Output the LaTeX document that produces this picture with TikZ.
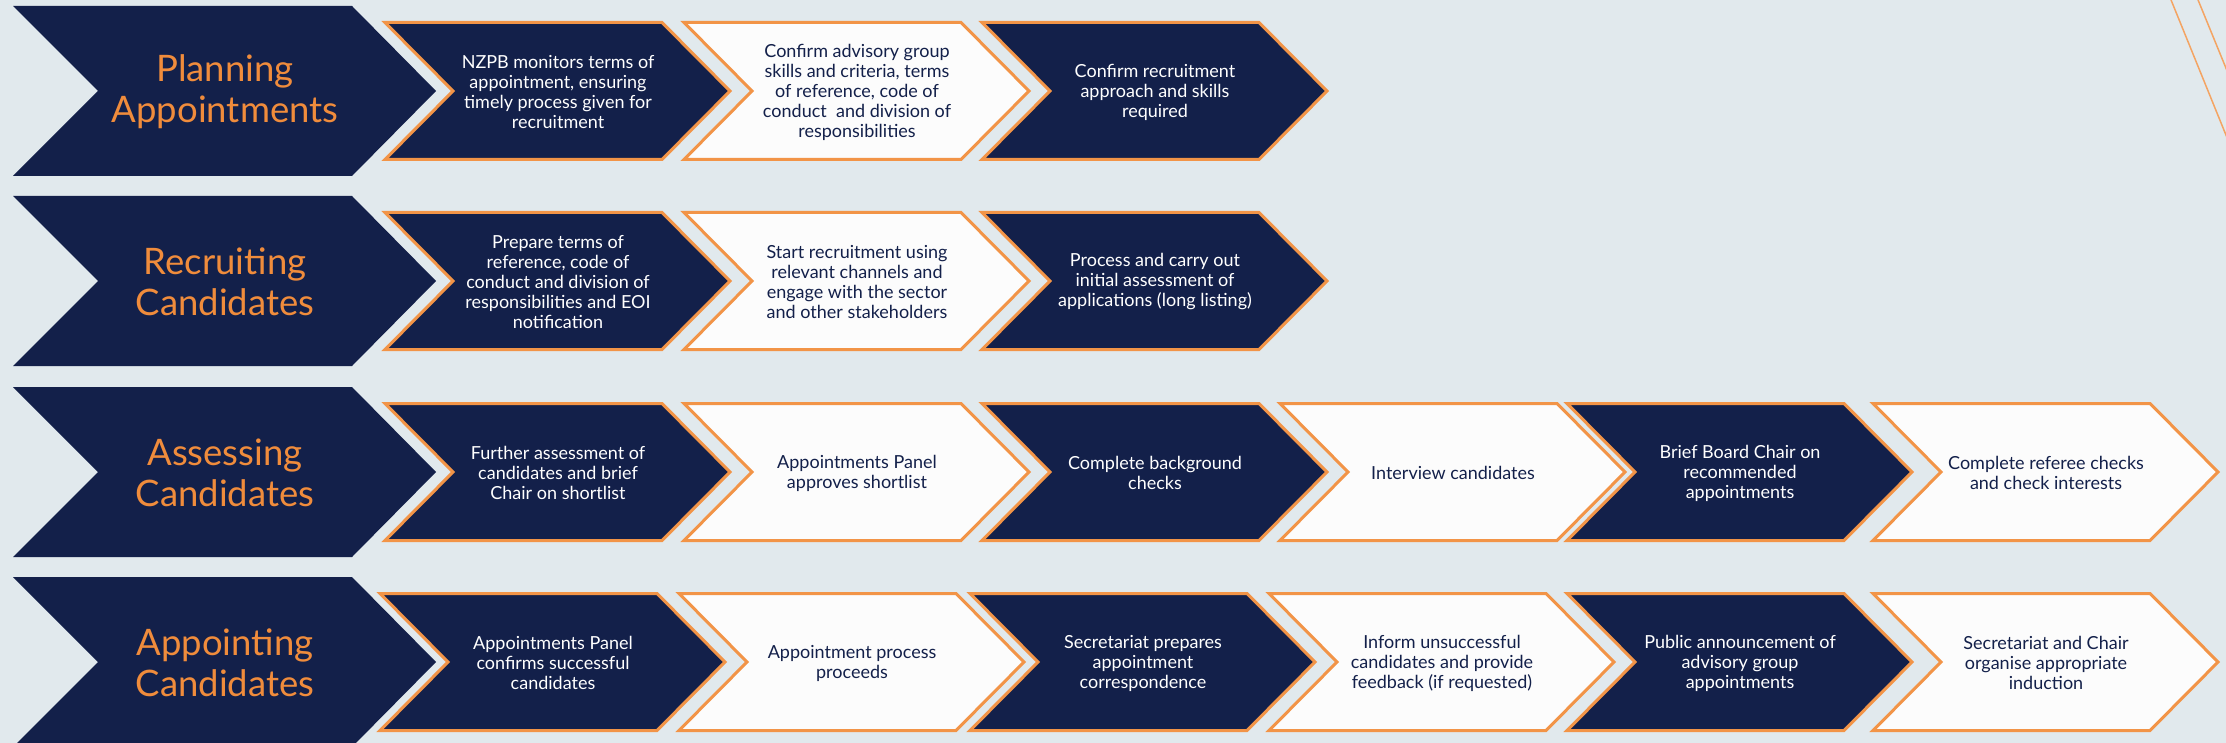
\documentclass[tikz,border=0pt]{standalone}
\usepackage{fontspec}
\setmainfont{Lato}
\usepackage{xcolor}
\usepackage{tikz}
\definecolor{navy}{HTML}{13204A}
\definecolor{edge}{HTML}{F29447}
\definecolor{label}{HTML}{F08C3C}
\definecolor{paper}{HTML}{FCFCFC}
\definecolor{backdrop}{HTML}{E1E9ED}
\tikzset{
  phase/.style      = {fill=navy},
  phase text/.style = {text=label, font=\fontsize{36.5}{41}\selectfont, align=center},
  dark box/.style   = {fill=navy, draw=edge, line width=3pt},
  dark text/.style  = {text=white, font=\fontsize{18}{20}\selectfont, align=center},
  light box/.style  = {fill=paper, draw=edge, line width=3pt},
  light text/.style = {text=navy, font=\fontsize{18}{20}\selectfont, align=center},
  deco/.style       = {draw=edge!85, line width=1.5pt}
}
% big chevron: name, centre y, label
\newcommand{\phasechev}[3]{%
  \fill[phase] (13,#2-85) -- (352,#2-85) -- (436,#2) -- (352,#2+85)
    -- (13,#2+85) -- (98,#2) -- cycle;
  \node[phase text] (#1) at (225,#2+1) {#3};}
% step chevron: name, left x, centre y, dark/light, text
\newcommand{\stepchev}[5]{%
  \draw[#4 box] (#2+2,#3-68.5) -- (#2+279,#3-68.5) -- (#2+347,#3)
    -- (#2+279,#3+68.5) -- (#2+2,#3+68.5) -- (#2+70,#3) -- cycle;
  \node[#4 text] (#1) at (#2+175,#3+1) {#5};}

\begin{document}
\begin{tikzpicture}[x=1pt, y=-1pt]
  \useasboundingbox (0,0) rectangle (2226,743);
  \fill[backdrop] (0,0) rectangle (2226,743);
  \draw[deco] (2169,-5) -- (2230,145);
  \draw[deco] (2196,-5) -- (2230,78);
  % planning
  \phasechev{plan}{91}{Planning\\Appointments}
  \stepchev{plan1}{383}{91}{dark}{NZPB monitors terms of\\appointment, ensuring\\timely process given for\\recruitment}
  \stepchev{plan2}{682}{91}{light}{Confirm advisory group\\skills and criteria, terms\\of reference, code of\\conduct\ \ and division of\\responsibilities}
  \stepchev{plan3}{980}{91}{dark}{Confirm recruitment\\approach and skills\\required}
  % recruiting
  \phasechev{recr}{281}{Recruiting\\Candidates}
  \stepchev{recr1}{383}{281}{dark}{Prepare terms of\\reference, code of\\conduct and division of\\responsibilities and EOI\\notification}
  \stepchev{recr2}{682}{281}{light}{Start recruitment using\\relevant channels and\\engage with the sector\\and other stakeholders}
  \stepchev{recr3}{980}{281}{dark}{Process and carry out\\initial assessment of\\applications (long listing)}
  % assessing
  \phasechev{asse}{472}{Assessing\\Candidates}
  \stepchev{asse1}{383}{472}{dark}{Further assessment of\\candidates and brief\\Chair on shortlist}
  \stepchev{asse2}{682}{472}{light}{Appointments Panel\\approves shortlist}
  \stepchev{asse3}{980}{472}{dark}{Complete background\\checks}
  \stepchev{asse4}{1278}{472}{light}{Interview candidates}
  \stepchev{asse5}{1565}{472}{dark}{Brief Board Chair on\\recommended\\appointments}
  \stepchev{asse6}{1871}{472}{light}{Complete referee checks\\and check interests}
  % appointing
  \phasechev{appt}{662}{Appointing\\Candidates}
  \stepchev{appt1}{378}{662}{dark}{Appointments Panel\\confirms successful\\candidates}
  \stepchev{appt2}{677}{662}{light}{Appointment process\\proceeds}
  \stepchev{appt3}{968}{662}{dark}{Secretariat prepares\\appointment\\correspondence}
  \stepchev{appt4}{1267}{662}{light}{Inform unsuccessful\\candidates and provide\\feedback (if requested)}
  \stepchev{appt5}{1565}{662}{dark}{Public announcement of\\advisory group\\appointments}
  \stepchev{appt6}{1871}{662}{light}{Secretariat and Chair\\organise appropriate\\induction}
\end{tikzpicture}
\end{document}
